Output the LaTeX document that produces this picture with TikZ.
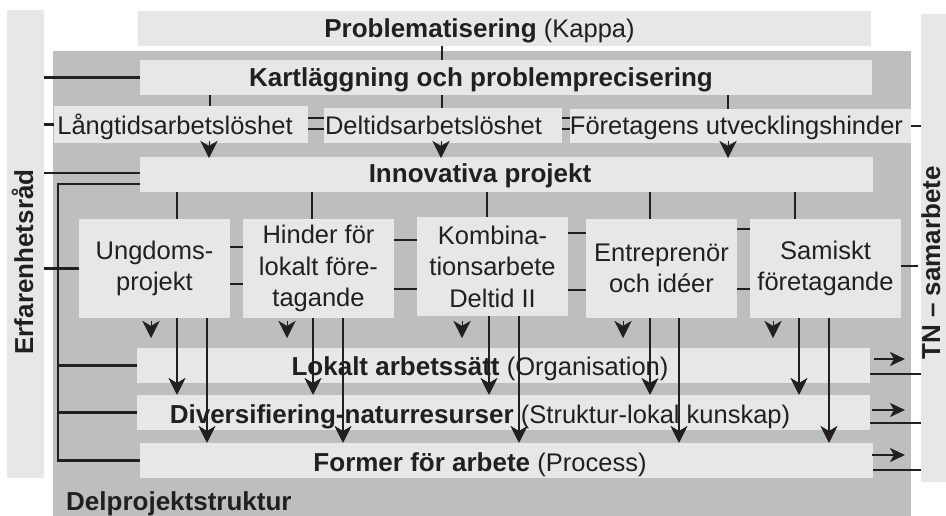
\documentclass[tikz,border=0pt]{standalone}
\usepackage{fontspec}
\setmainfont{Liberation Sans}
\usetikzlibrary{arrows.meta}
\definecolor{lg}{HTML}{E6E7E8}
\definecolor{dg}{HTML}{BCBEC0}
\definecolor{ink}{HTML}{231F20}
\newcommand\regtxt[1]{{\mdseries\fontsize{25.5}{31.5}\selectfont #1}}
\begin{document}
\begin{tikzpicture}[x=1pt,y=-1pt,
  lbox/.style={fill=lg,draw=none,inner sep=0pt,outer sep=0pt},
  subbox/.style={lbox,minimum width=151pt,minimum height=99pt,align=center,
     font=\fontsize{25.5}{31.5}\selectfont,text=ink},
  reg/.style={font=\fontsize{25.5}{31.5}\selectfont,text=ink,inner sep=0pt},
  bld/.style={font=\bfseries\fontsize{26}{31.5}\selectfont,text=ink,inner sep=0pt},
  ln/.style={draw=ink,line width=2.7pt},
  arr/.style={ln,-{Stealth[length=17pt,width=17pt,inset=5pt]}},
  tipo/.style={draw=ink,fill=ink,line width=0.1pt,-{Stealth[length=17pt,width=17pt,inset=5pt]}},
  rarr/.style={draw=ink,line width=2.2pt,-{Stealth[length=15pt,width=14pt,inset=4pt]}},
  thn/.style={draw=ink,line width=2.2pt}]
\useasboundingbox (0,0) rectangle (946,516);
\fill[white] (0,0) rectangle (946,516);
% background areas
\node[lbox,minimum width=37pt,minimum height=468pt] (erfbar) at (25.5,244) {};
\node[lbox,minimum width=25pt,minimum height=468pt] (tnbar) at (933.5,248) {};
\node[fill=dg,inner sep=0pt,minimum width=858pt,minimum height=465pt] (bg) at (482,283.5) {};
% boxes
\node[lbox,minimum width=733pt,minimum height=35pt] (prob) at (504.5,28.5) {};
\node[lbox,minimum width=732pt,minimum height=35pt] (kart) at (506,77.5) {};
\node[lbox,minimum width=254pt,minimum height=37pt] (lang) at (181,124.5) {};
\node[lbox,minimum width=238pt,minimum height=35pt] (delt) at (443,125.5) {};
\node[lbox,minimum width=341pt,minimum height=34pt] (fore) at (740.5,126) {};
\node[lbox,minimum width=733pt,minimum height=35pt] (innov) at (506.5,174.5) {};
\node[subbox] (ung) at (154.5,268.5) {Ungdoms-\\projekt};
\node[subbox] (hin) at (318.5,268.5) {Hinder för\\lokalt före-\\tagande};
\node[subbox] (kom) at (492.5,266.5) {Kombina-\\tionsarbete\\Deltid II};
\node[subbox] (ent) at (661.5,268.5) {Entreprenör\\och idéer};
\node[subbox] (sam) at (825.5,268.5) {Samiskt\\företagande};
\node[lbox,minimum width=733pt,minimum height=35pt] (lok) at (503.5,365.5) {};
\node[lbox,minimum width=733pt,minimum height=35pt] (div) at (503.5,412.5) {};
\node[lbox,minimum width=733pt,minimum height=35pt] (form) at (506.5,460.5) {};
% texts
\node[bld,rotate=90,anchor=base] (terf) at (33,262) {Erfarenhetsråd};
\node[bld,rotate=90,anchor=base] (ttn) at (940,263) {TN – samarbete};
\node[bld,anchor=base] (tprob) at (479.5,38) {Problematisering \regtxt{(Kappa)}};
\node[bld,anchor=base] (tkart) at (481,87) {Kartläggning och problemprecisering};
\node[reg,anchor=base] (tlang) at (175,135) {Långtidsarbetslöshet};
\node[reg,anchor=base] (tdelt) at (433.5,135) {Deltidsarbetslöshet};
\node[reg,anchor=base] (tfore) at (736.5,135) {Företagens utvecklingshinder};
\node[bld,anchor=base] (tinnov) at (480,183) {Innovativa projekt};
\node[bld,anchor=base] (tlok) at (480,375) {Lokalt arbetssätt \regtxt{(Organisation)}};
\node[bld,anchor=base] (tdiv) at (480,423) {Diversifiering-naturresurser \regtxt{(Struktur-lokal kunskap)}};
\node[bld,anchor=base] (tform) at (480,471) {Former för arbete \regtxt{(Process)}};
\node[bld,anchor=base west] (tdel) at (66,510) {Delprojektstruktur};
% top connectors
\draw[ln] (442,0 |- prob.south) -- (442,0 |- kart.north);
\draw[ln] (kart.west) -- (kart.west -| erfbar.east);
\draw[ln] (210,0 |- kart.south) -- (210,0 |- lang.north);
\draw[ln] (442,0 |- kart.south) -- (442,0 |- delt.north);
\draw[ln] (728,0 |- kart.south) -- (728,0 |- fore.north);
\draw[ln] (lang.west) -- (lang.west -| erfbar.east);
\draw[ln] (lang.east |- 0,118) -- (delt.west |- 0,118);
\draw[ln] (lang.east |- 0,129) -- (delt.west |- 0,129);
\draw[ln] (delt.east |- 0,118) -- (fore.west |- 0,118);
\draw[ln] (delt.east |- 0,129) -- (fore.west |- 0,129);
\draw[ln] (fore.east) -- (fore.east -| tnbar.west);
\draw[tipo] (209,141) -- (209,158);
\draw[tipo] (441,141) -- (441,158);
\draw[tipo] (728,141) -- (728,158);
% innovativa
\draw[ln] (innov.west |- 0,173) -- (erfbar.east |- 0,173);
\draw[ln] (innov.west |- 0,184) -| (58,0 |- form.west) -- (form.west);
\draw[ln] (58,0 |- lok.west) -- (lok.west);
\draw[ln] (58,0 |- div.west) -- (div.west);
\draw[ln] (ung.west) -- (ung.west -| erfbar.east);
\draw[ln] (177,0 |- innov.south) -- (177,0 |- ung.north);
\draw[ln] (312,0 |- innov.south) -- (312,0 |- hin.north);
\draw[ln] (487,0 |- innov.south) -- (487,0 |- kom.north);
\draw[ln] (650,0 |- innov.south) -- (650,0 |- ent.north);
\draw[ln] (795,0 |- innov.south) -- (795,0 |- sam.north);
% between sub boxes
\draw[ln] (ung.east |- 0,247) -- (hin.west |- 0,247);
\draw[ln] (ung.east |- 0,284) -- (hin.west |- 0,284);
\draw[ln] (hin.east |- 0,240) -- (kom.west |- 0,240);
\draw[ln] (hin.east |- 0,289) -- (kom.west |- 0,289);
\draw[ln] (kom.east |- 0,233) -- (ent.west |- 0,233);
\draw[ln] (kom.east |- 0,290) -- (ent.west |- 0,290);
\draw[ln] (ent.east |- 0,229) -- (sam.west |- 0,229);
\draw[ln] (ent.east |- 0,289) -- (sam.west |- 0,289);
\draw[ln] (sam.east |- 0,266) -- (918,266);
% arrowheads under sub boxes
\draw[tipo] (151,321) -- (151,338);
\draw[tipo] (287,321) -- (287,338);
\draw[tipo] (462,321) -- (462,338);
\draw[tipo] (623,321) -- (623,338);
\draw[tipo] (773,321) -- (773,338);
% arrows down
\draw[arr] (177,0 |- ung.south) -- (177,0 |- div.north);
\draw[arr] (207,0 |- ung.south) -- (207,0 |- form.north);
\draw[arr] (313,0 |- hin.south) -- (313,0 |- div.north);
\draw[arr] (343,0 |- hin.south) -- (343,0 |- form.north);
\draw[arr] (489,0 |- kom.south) -- (489,0 |- div.north);
\draw[arr] (519,0 |- kom.south) -- (519,0 |- form.north);
\draw[arr] (650,0 |- ent.south) -- (650,0 |- div.north);
\draw[arr] (679,0 |- ent.south) -- (679,0 |- form.north);
\draw[arr] (799,0 |- sam.south) -- (799,0 |- div.north);
\draw[arr] (829,0 |- sam.south) -- (829,0 |- form.north);
% right side
\draw[rarr] (874,359) -- (905,359);
\draw[rarr] (872,410) -- (905,410);
\draw[rarr] (872,455) -- (905,455);
\draw[thn] (lok.east |- 0,374) -- (tnbar.west |- 0,374);
\draw[thn] (div.east |- 0,423) -- (tnbar.west |- 0,423);
\draw[thn] (form.east |- 0,470) -- (tnbar.west |- 0,470);
\end{tikzpicture}
\end{document}
